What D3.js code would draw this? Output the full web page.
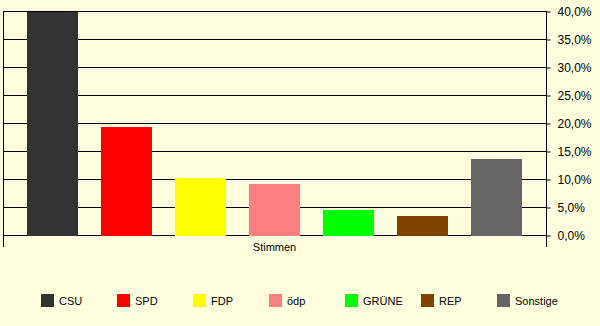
<!DOCTYPE html>
<html>
<head>
<meta charset="utf-8">
<script src="https://cdn.jsdelivr.net/npm/d3@7"></script>
<style>
  body { margin: 0; background: #ffffe0; }
  svg { display: block; font-family: "Liberation Sans", Arial, sans-serif; }
</style>
</head>
<body>
<div id="chart"></div>
<script>
// data
var parties = ['CSU', 'SPD', 'FDP', 'ödp', 'GRÜNE', 'REP', 'Sonstige'];
var shares = [39.8, 19.3, 10.2, 9.1, 4.5, 3.4, 13.6];
var colors = ['#333333', '#ff0000', '#ffff00', '#ff8080', '#00ff00', '#804000', '#666666'];
var groups = ['Stimmen'];
var yTicks = [0, 5, 10, 15, 20, 25, 30, 35, 40];

var width = 600, height = 326;
var plotLeft = 3, plotRight = 546, plotTop = 11, plotBottom = 235;

var svg = d3.select('#chart')
  .append('svg')
  .attr('width', width)
  .attr('height', height);

svg.append('rect')
  .attr('width', width)
  .attr('height', height)
  .attr('fill', '#ffffe0');

var x = d3.scaleBand()
  .domain(parties)
  .range([plotLeft, plotRight])
  .paddingInner(0.311)
  .paddingOuter(0.3245);

var y = d3.scaleLinear()
  .domain([0, 40])
  .range([plotBottom, plotTop]);

var color = d3.scaleOrdinal()
  .domain(parties)
  .range(colors);

//gridlines
svg.append('g')
  .selectAll('line')
  .data(yTicks)
  .enter()
  .append('line')
  .attr('x1', plotLeft)
  .attr('x2', plotRight)
  .attr('y1', function (d) { return Math.round(y(d)) + 0.5; })
  .attr('y2', function (d) { return Math.round(y(d)) + 0.5; })
  .attr('stroke', '#000')
  .attr('stroke-width', 1);

//bars
svg.append('g')
  .selectAll('rect')
  .data(parties)
  .enter()
  .append('rect')
  .attr('x', function (d) { return Math.round(x(d)); })
  .attr('y', function (d, i) { return Math.round(y(shares[i])); })
  .attr('width', Math.round(x.bandwidth()))
  .attr('height', function (d, i) { return plotBottom + 1 - Math.round(y(shares[i])); })
  .attr('fill', function (d) { return color(d); });

//value axis on the right
var yAxis = svg.append('g')
  .attr('transform', 'translate(' + (plotRight + 0.5) + ',0.5)')
  .call(d3.axisRight(y)
    .tickValues(yTicks)
    .tickSize(4)
    .tickPadding(7)
    .tickFormat(function (d) { return d.toFixed(1).replace('.', ',') + '%'; }));
yAxis.select('.domain').remove();
yAxis.selectAll('line').attr('stroke', '#000');
yAxis.selectAll('text')
  .attr('fill', '#000')
  .style('font-size', '12px')
  .style('font-family', '"Liberation Sans", Arial, sans-serif');

//vertical border lines
svg.append('g')
  .selectAll('line')
  .data([plotLeft, plotRight])
  .enter()
  .append('line')
  .attr('x1', function (d) { return d + 0.5; })
  .attr('x2', function (d) { return d + 0.5; })
  .attr('y1', plotTop)
  .attr('y2', 247)
  .attr('stroke', '#000');

//category label
var xg = d3.scaleBand().domain(groups).range([plotLeft, plotRight]);
var xAxis = svg.append('g')
  .attr('transform', 'translate(0,' + (plotBottom + 1) + ')')
  .call(d3.axisBottom(xg).tickSize(0).tickPadding(7));
xAxis.select('.domain').remove();
xAxis.selectAll('text')
  .attr('fill', '#000')
  .style('font-size', '11px')
  .style('font-family', '"Liberation Sans", Arial, sans-serif');

//legend
var lx = d3.scaleLinear().domain([0, parties.length - 1]).range([41, 497]);
var legend = svg.append('g')
  .selectAll('g')
  .data(parties)
  .enter()
  .append('g')
  .attr('transform', function (d, i) { return 'translate(' + lx(i) + ',294)'; });

legend.append('rect')
  .attr('width', 13)
  .attr('height', 13)
  .attr('fill', function (d) { return color(d); });

legend.append('text')
  .attr('x', 18)
  .attr('y', 7)
  .attr('dy', '0.35em')
  .style('font-size', '11px')
  .text(function (d) { return d; });
</script>
</body>
</html>
